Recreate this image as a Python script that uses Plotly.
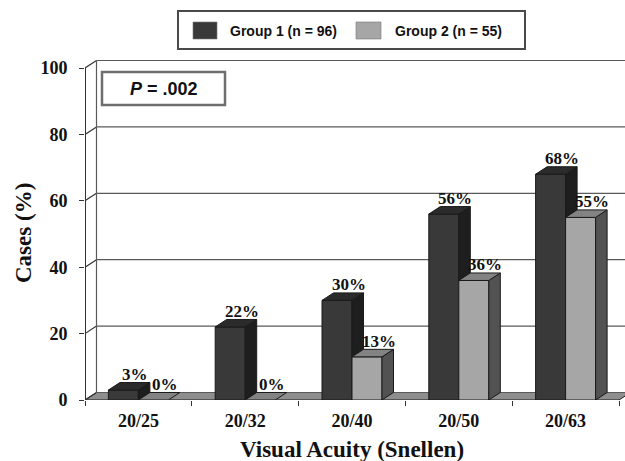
import plotly.graph_objects as go

# ---- data ----
categories = ["20/25", "20/32", "20/40", "20/50", "20/63"]
group1 = [3, 22, 30, 56, 68]
group2 = [0, 0, 13, 36, 55]
series_names = ["Group 1 (n = 96)", "Group 2 (n = 55)"]
y_ticks = [0, 20, 40, 60, 80, 100]
p_value_text = "<i>P</i> = .002"
x_title = "Visual Acuity (Snellen)"
y_title = "Cases (%)"

# ---- geometry of the pseudo-3D frame ----
W, H = 625, 461
M_L, M_R, M_T, M_B = 85, 0, 55, 61
PLOT_W = W - M_L - M_R
PLOT_H = H - M_T - M_B
PX_PER_CAT = 106.8
PX_PER_PCT = 3.32
X_RANGE = [-0.5, -0.5 + PLOT_W / PX_PER_CAT]
Y_RANGE = [0, PLOT_H / PX_PER_PCT]

DX = 11.5 / PX_PER_CAT      # depth offset, x
DY = 7.5 / PX_PER_PCT       # depth offset, y
BW = 30 / PX_PER_CAT        # bar width
X_LO, X_HI = -0.5, len(categories) - 0.5

EDGE = "#1a1a1a"
G1 = {"front": "#393939", "top": "#2b2b2b", "side": "#1e1e1e"}
G2 = {"front": "#a6a6a6", "top": "#838383", "side": "#525252"}
FLOOR = "#8e8e8e"
GRID = "#5a5a5a"
SERIF = "Liberation Serif"
SANS = "Liberation Sans"


def paper_x(px):
    return (px - M_L) / PLOT_W


def paper_y(py):
    return (H - M_B - py) / PLOT_H


def face(points, color):
    xs = [p[0] for p in points] + [points[0][0]]
    ys = [p[1] for p in points] + [points[0][1]]
    return go.Scatter(x=xs, y=ys, mode="lines", fill="toself", fillcolor=color,
                      line=dict(color=EDGE, width=1), hoverinfo="skip",
                      showlegend=False)


xpos = list(range(len(categories)))
fig = go.Figure()

# front faces of the columns
fig.add_trace(go.Bar(x=xpos, y=group1, width=BW, offset=-BW, name=series_names[0],
                     marker=dict(color=G1["front"], line=dict(color=EDGE, width=1)),
                     showlegend=False))
fig.add_trace(go.Bar(x=xpos, y=group2, width=BW, offset=0, name=series_names[1],
                     marker=dict(color=G2["front"], line=dict(color=EDGE, width=1)),
                     showlegend=False))

# side and top faces
for c, v1, v2 in zip(xpos, group1, group2):
    a0, a1 = c - BW, c
    low = min(v1, v2)
    fig.add_trace(face([(a1, low), (a1 + DX, low + DY), (a1 + DX, v1 + DY), (a1, v1)], G1["side"]))
    fig.add_trace(face([(a0, v1), (a0 + DX, v1 + DY), (a1 + DX, v1 + DY), (a1, v1)], G1["top"]))
for c, v2 in zip(xpos, group2):
    b0, b1 = c, c + BW
    if v2 > 0:
        fig.add_trace(face([(b1, 0), (b1 + DX, DY), (b1 + DX, v2 + DY), (b1, v2)], G2["side"]))
    fig.add_trace(face([(b0, v2), (b0 + DX, v2 + DY), (b1 + DX, v2 + DY), (b1, v2)], G2["top"]))

shapes = []
# floor
shapes.append(dict(type="path", xref="x", yref="y", layer="below",
                   path=f"M {X_LO},0 L {X_HI},0 L {X_HI + DX},{DY} L {X_LO + DX},{DY} Z",
                   fillcolor=FLOOR, line=dict(color=EDGE, width=1)))
# back wall gridlines and side wall connectors
for v in y_ticks:
    shapes.append(dict(type="line", xref="x", yref="y", layer="below",
                       x0=X_LO + DX, y0=v + DY, x1=X_HI + DX, y1=v + DY,
                       line=dict(color=GRID, width=1.2)))
    shapes.append(dict(type="line", xref="x", yref="y", layer="below",
                       x0=X_LO, y0=v, x1=X_LO + DX, y1=v + DY,
                       line=dict(color="#333", width=1.2)))
shapes.append(dict(type="line", xref="x", yref="y", layer="below",
                   x0=X_LO + DX, y0=DY, x1=X_LO + DX, y1=y_ticks[-1] + DY,
                   line=dict(color=GRID, width=1.2)))
shapes.append(dict(type="line", xref="x", yref="y",
                   x0=X_LO, y0=0, x1=X_LO, y1=y_ticks[-1],
                   line=dict(color="#333", width=2)))

# P-value box
shapes.append(dict(type="rect", xref="paper", yref="paper",
                   x0=paper_x(102), x1=paper_x(225), y0=paper_y(105), y1=paper_y(72),
                   fillcolor="white", line=dict(color="#6e6e6e", width=2.5)))

# legend box and swatches
shapes.append(dict(type="rect", xref="paper", yref="paper",
                   x0=paper_x(178), x1=paper_x(525), y0=paper_y(49), y1=paper_y(11),
                   fillcolor="white", line=dict(color="#4a4a4a", width=2)))
legend_items = [(193, 217, 228, G1["front"]), (356, 381, 393, G2["front"])]
annotations = []
for (sx0, sx1, tx, col), name in zip(legend_items, series_names):
    shapes.append(dict(type="rect", xref="paper", yref="paper",
                       x0=paper_x(sx0), x1=paper_x(sx1), y0=paper_y(39), y1=paper_y(22),
                       fillcolor=col, line=dict(color="#777", width=0.6)))
    annotations.append(dict(xref="paper", yref="paper", x=paper_x(tx), y=paper_y(30.5),
                            text=name, showarrow=False, xanchor="left", yanchor="middle",
                            font=dict(family=SANS, size=14, color="#111", weight="bold")))

annotations.append(dict(xref="paper", yref="paper", x=paper_x(163.5), y=paper_y(88.5),
                        text=p_value_text, showarrow=False, xanchor="center", yanchor="middle",
                        font=dict(family=SANS, size=18, color="#111", weight="bold")))

# value labels above each column
for off, vals in ((-BW / 2, group1), (BW / 2, group2)):
    for c, v in zip(xpos, vals):
        annotations.append(dict(xref="x", yref="y", x=c + off + DX, y=v + DY, yshift=8,
                                text=f"{v}%", showarrow=False, xanchor="center", yanchor="middle",
                                font=dict(family=SERIF, size=17, color="#111", weight="bold")))

# axis titles
annotations.append(dict(xref="paper", yref="paper", x=paper_x(352), y=paper_y(449),
                        text=x_title, showarrow=False, xanchor="center", yanchor="middle",
                        font=dict(family=SERIF, size=23, color="#111", weight="bold")))
annotations.append(dict(xref="paper", yref="paper", x=paper_x(23), y=paper_y(233),
                        text=y_title, showarrow=False, textangle=-90,
                        xanchor="center", yanchor="middle",
                        font=dict(family=SERIF, size=23, color="#111", weight="bold")))

fig.update_layout(
    width=W, height=H,
    margin=dict(l=M_L, r=M_R, t=M_T, b=M_B, pad=0),
    paper_bgcolor="white", plot_bgcolor="white",
    barmode="overlay", showlegend=False,
    shapes=shapes, annotations=annotations,
    xaxis=dict(range=X_RANGE, tickvals=xpos, ticktext=categories, ticks="",
               showgrid=False, zeroline=False, showline=False,
               ticklabelstandoff=8,
               tickfont=dict(family=SERIF, size=18, color="#111", weight="bold"),
               minor=dict(tickvals=[X_LO + k for k in range(len(categories) + 1)],
                          ticks="outside", ticklen=5, tickcolor="#333", tickwidth=1.2)),
    yaxis=dict(range=Y_RANGE, tickvals=y_ticks, ticks="outside", ticklen=5,
               tickcolor="#333", tickwidth=1.2, showgrid=False, zeroline=False,
               showline=False, ticklabelstandoff=8,
               tickfont=dict(family=SERIF, size=18, color="#111", weight="bold")),
)

fig.write_html("out.html")
